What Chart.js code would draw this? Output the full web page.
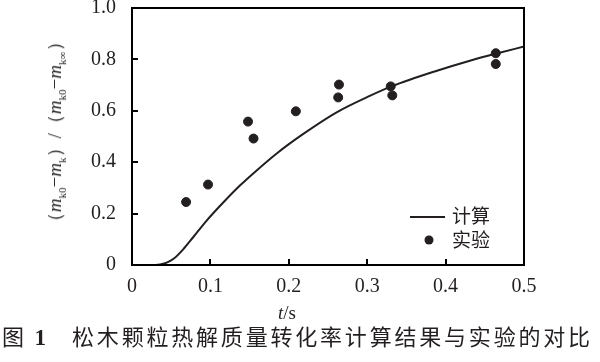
<head>
    <meta charset="UTF-8">
    <title>松木颗粒热解质量转化率</title>
    <script src="https://cdn.jsdelivr.net/npm/chart.js"></script>
    <style>
        body { margin: 0; background: #fff; }
        #wrap { position: relative; width: 600px; height: 362px; overflow: hidden; }
        #box { position: absolute; left: 0; top: -12px; width: 600px; height: 374px; }
        .ylab {
            position: absolute; left: 55px; top: 132px;
            transform: translate(-50%, -50%) rotate(-90deg);
            font-family: "Liberation Serif", serif; font-size: 19px; white-space: nowrap; color: #231f20;
        }
        .ylab sub { font-size: 11px; }
        .xlab {
            position: absolute; left: 287px; top: 313px; transform: translate(-50%, -50%);
            font-family: "Liberation Serif", serif; font-size: 19px; color: #231f20;
        }
        .cap {
            position: absolute; left: 2px; top: 335px; transform: translateY(-50%);
            font-family: "Noto Sans CJK SC", sans-serif; font-size: 22px; color: #231f20; white-space: nowrap;
            letter-spacing: 2.8px;
        }
        .cap b { font-family: "Liberation Serif", serif; font-size: 23px; }
    </style>
</head>
<div id="wrap">
    <div id="box"><canvas id="chart"></canvas></div>
    <div class="ylab">（<i>m</i><sub>k0</sub>−<i>m</i><sub>k</sub>）/（<i>m</i><sub>k0</sub>−<i>m</i><sub>k∞</sub>）</div>
    <div class="xlab"><i>t</i>/s</div>
    <div class="cap">图 <b>1</b>&nbsp;&nbsp;&nbsp;松木颗粒热解质量转化率计算结果与实验的对比</div>
</div>

<script>
    // calculated curve
    const calcT = [0, 0.03, 0.036, 0.045, 0.053, 0.065, 0.078, 0.095, 0.117, 0.138, 0.159, 0.185, 0.2185, 0.261, 0.304, 0.331, 0.389, 0.431, 0.465, 0.5];
    const calcV = [0, 0, 0.002, 0.01, 0.024, 0.06, 0.108, 0.172, 0.245, 0.310, 0.368, 0.435, 0.510, 0.594, 0.659, 0.695, 0.756, 0.795, 0.823, 0.85];
    // experiment points
    const expT = [0.069, 0.097, 0.148, 0.155, 0.209, 0.264, 0.263, 0.330, 0.332, 0.464, 0.464];
    const expV = [0.245, 0.313, 0.558, 0.492, 0.598, 0.702, 0.652, 0.695, 0.660, 0.824, 0.782];
    const xTicks = [0, 0.1, 0.2, 0.3, 0.4, 0.5];
    const yTicks = [0, 0.2, 0.4, 0.6, 0.8, 1.0];
    const seriesNames = ["计算", "实验"];

    const ink = "#231f20";
    const frameInk = "#000000";

    // box round the plot, inward ticks and the legend
    const frame = {
        id: "frame",
        afterDraw(chart) {
            const c = chart.ctx;
            const xs = chart.scales.x, ys = chart.scales.y;
            const L = Math.round(xs.getPixelForValue(0)), R = Math.round(xs.getPixelForValue(0.5));
            const T = Math.round(ys.getPixelForValue(1)), B = Math.round(ys.getPixelForValue(0));
            c.save();
            c.fillStyle = frameInk;
            c.fillRect(L - 1, T - 1, R - L + 2, 2);
            c.fillRect(L - 1, B - 1, R - L + 2, 2);
            c.fillRect(L - 1, T - 1, 2, B - T + 2);
            c.fillRect(R - 1, T - 1, 2, B - T + 2);
            xTicks.slice(1, -1).forEach(v => {
                const px = Math.round(xs.getPixelForValue(v));
                c.fillRect(px - 1, B - 6, 2, 6);
            });
            yTicks.slice(1, -1).forEach(v => {
                const py = Math.round(ys.getPixelForValue(v));
                c.fillRect(L, py - 1, 6, 2);
            });
            c.fillStyle = ink;
            c.fillRect(410, 228, 35, 2);
            c.beginPath(); c.arc(429, 252, 4.5, 0, Math.PI * 2); c.fill();
            c.font = '19px "Noto Sans CJK SC"';
            c.textBaseline = "middle";
            c.fillText(seriesNames[0], 452, 228);
            c.fillText(seriesNames[1], 452, 252);
            c.restore();
        }
    };

    new Chart(document.getElementById("chart"), {
        type: "scatter",
        data: {
            datasets: [{
                type: "line",
                label: seriesNames[0],
                data: calcT.map((t, i) => ({x: t, y: calcV[i]})),
                borderColor: ink,
                borderWidth: 2,
                pointRadius: 0,
                cubicInterpolationMode: "monotone",
                fill: false
            }, {
                label: seriesNames[1],
                data: expT.map((t, i) => ({x: t, y: expV[i]})),
                backgroundColor: ink,
                borderColor: ink,
                pointRadius: 4.5
            }]
        },
        plugins: [frame],
        options: {
            responsive: true,
            maintainAspectRatio: false,
            animation: false,
            layout: { padding: { left: 0, top: 7, right: 76, bottom: 0 } },
            plugins: { legend: { display: false }, tooltip: { enabled: false } },
            scales: {
                x: {
                    type: "linear", min: 0, max: 0.5,
                    afterBuildTicks: s => { s.ticks = xTicks.map(v => ({value: v})); },
                    afterFit: s => { s.height = 97; },
                    grid: { display: false },
                    border: { display: true, color: frameInk, width: 2 },
                    ticks: {
                        color: ink, padding: 2,
                        font: { family: "Liberation Serif", size: 20 },
                        callback: v => v === 0 ? "0" : v.toFixed(1)
                    }
                },
                y: {
                    min: 0, max: 1,
                    afterBuildTicks: s => { s.ticks = yTicks.map(v => ({value: v})); },
                    afterFit: s => { s.width = 132; },
                    grid: { display: false },
                    border: { display: true, color: frameInk, width: 2 },
                    ticks: {
                        color: ink, padding: 8,
                        font: { family: "Liberation Serif", size: 20 },
                        callback: v => v === 0 ? "0" : v.toFixed(1)
                    }
                }
            }
        }
    });
</script>
